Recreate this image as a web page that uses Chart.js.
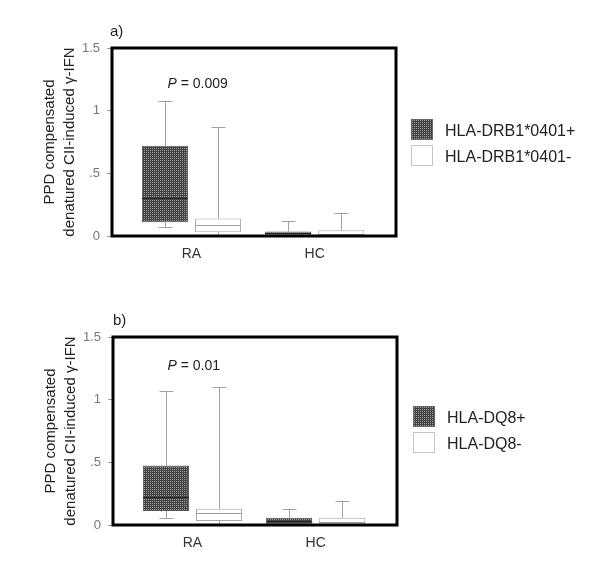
<!DOCTYPE html>
<html>
<head>
<meta charset="utf-8">
<script src="https://cdn.jsdelivr.net/npm/chart.js@4"></script>
<style>
  html, body { margin:0; padding:0; background:#ffffff; }
  body { width:600px; height:570px; position:relative; overflow:hidden; }
  canvas { position:absolute; left:0; }
</style>
</head>
<body>
<canvas id="chartA" width="600" height="285" style="top:0px"></canvas>
<canvas id="chartB" width="600" height="285" style="top:285px"></canvas>
<script>
// ---------- data ----------
const categories = ['RA', 'HC'];
const yTickValues = [0, 0.5, 1, 1.5];
const yTickLabels = ['0', '.5', '1', '1.5'];
const panelLabels = ['a)', 'b)'];
const pValues = ['0.009', '0.01'];
const seriesNamesA = ['HLA-DRB1*0401+', 'HLA-DRB1*0401-'];
const seriesNamesB = ['HLA-DQ8+', 'HLA-DQ8-'];

// panel a, carriers (+)
const aPosMin = [0.07, 0.0];
const aPosQ1  = [0.11, 0.0];
const aPosMed = [0.30, 0.02];
const aPosQ3  = [0.72, 0.035];
const aPosMax = [1.08, 0.12];
// panel a, non-carriers (-)
const aNegMin = [0.01, 0.0];
const aNegQ1  = [0.03, 0.005];
const aNegMed = [0.085, 0.012];
const aNegQ3  = [0.14, 0.045];
const aNegMax = [0.87, 0.185];

// panel b, carriers (+)
const bPosMin = [0.058, 0.0];
const bPosQ1  = [0.112, 0.003];
const bPosMed = [0.227, 0.03];
const bPosQ3  = [0.475, 0.058];
const bPosMax = [1.067, 0.13];
// panel b, non-carriers (-)
const bNegMin = [0.005, 0.0];
const bNegQ1  = [0.032, 0.005];
const bNegMed = [0.094, 0.02];
const bNegQ3  = [0.13, 0.058];
const bNegMax = [1.10, 0.195];

// ---------- styling ----------
Chart.defaults.font.family = "'Liberation Sans', Arial, sans-serif";

function makePattern() {
  const c = document.createElement('canvas');
  c.width = 2; c.height = 2;
  const g = c.getContext('2d');
  g.fillStyle = '#444444'; g.fillRect(0, 0, 2, 2);
  g.fillStyle = '#9a9a9a'; g.fillRect(0, 0, 1, 1);
  return g.createPattern(c, 'repeat');
}
const darkFill = makePattern();

const boxPlugin = {
  id: 'boxDecor',
  afterDatasetsDraw(chart) {
    const ctx = chart.ctx;
    const ys = chart.scales.y;
    ctx.save();
    chart.data.datasets.forEach((ds, di) => {
      const meta = chart.getDatasetMeta(di);
      const s = ds.stats;
      meta.data.forEach((bar, i) => {
        const cx = Math.round(bar.x) + 0.5;
        const w = bar.width;
        const pMin = Math.round(ys.getPixelForValue(s.min[i])) + 0.5;
        const pQ1 = ys.getPixelForValue(s.q1[i]);
        const pMed = Math.round(ys.getPixelForValue(s.med[i])) + 0.5;
        const pQ3 = ys.getPixelForValue(s.q3[i]);
        const pMax = Math.round(ys.getPixelForValue(s.max[i])) + 0.5;
        ctx.lineWidth = 1;
        ctx.strokeStyle = '#a2a2a2';
        ctx.beginPath();
        ctx.moveTo(cx, pQ3); ctx.lineTo(cx, pMax);
        ctx.moveTo(cx - 7, pMax); ctx.lineTo(cx + 7, pMax);
        if (s.min[i] < s.q1[i]) {
          ctx.moveTo(cx, pQ1); ctx.lineTo(cx, pMin);
          ctx.moveTo(cx - 7, pMin); ctx.lineTo(cx + 7, pMin);
        }
        ctx.stroke();
        ctx.strokeStyle = ds.medianColor;
        ctx.beginPath();
        ctx.moveTo(bar.x - w / 2, pMed); ctx.lineTo(bar.x + w / 2, pMed);
        ctx.stroke();
      });
    });
    ctx.restore();
  },
  afterDraw(chart, args, opts) {
    const ctx = chart.ctx;
    const a = chart.chartArea;
    ctx.save();
    // frame
    ctx.lineWidth = 3;
    ctx.strokeStyle = '#000';
    ctx.strokeRect(a.left, a.top, a.right - a.left, a.bottom - a.top);
    // panel label
    ctx.fillStyle = '#222';
    ctx.textBaseline = 'middle';
    ctx.textAlign = 'left';
    ctx.font = "15px 'Liberation Sans', Arial, sans-serif";
    ctx.fillText(opts.panelLabel, a.left + opts.labelDx, a.top - 16);
    // p-value
    const px = chart.scales.x.getPixelForValue(1) + opts.pDx;
    const py = chart.scales.y.getPixelForValue(opts.pY);
    ctx.font = "italic 14px 'Liberation Sans', Arial, sans-serif";
    const pw = ctx.measureText('P').width;
    ctx.fillText('P', px, py);
    ctx.font = "14px 'Liberation Sans', Arial, sans-serif";
    ctx.fillText(' = ' + opts.pValue, px + pw, py);
    // legend
    chart.data.datasets.forEach((ds, di) => {
      const lx = a.right + opts.legDx;
      const ly = opts.legTop + di * 26;
      ctx.fillStyle = ds.backgroundColor;
      ctx.fillRect(lx, ly, 22, 21);
      ctx.lineWidth = 1;
      ctx.strokeStyle = ds.legendBorder;
      ctx.strokeRect(lx + 0.5, ly + 0.5, 21, 20);
      ctx.fillStyle = '#222';
      ctx.font = "16px 'Liberation Sans', Arial, sans-serif";
      ctx.fillText(ds.label, lx + 34, ly + 13);
    });
    ctx.restore();
  }
};

function buildChart(id, names, pos, neg, pad, deco) {
  const mk = (st) => categories.map((c, i) => ({ x: i + 1, y: [st.q1[i], st.q3[i]] }));
  return new Chart(document.getElementById(id), {
    type: 'bar',
    data: {
      datasets: [
        {
          label: names[0], data: mk(pos), stats: pos,
          backgroundColor: darkFill, borderColor: '#555', borderWidth: 1,
          borderSkipped: false, medianColor: '#222', legendBorder: '#666'
        },
        {
          label: names[1], data: mk(neg), stats: neg,
          backgroundColor: '#ffffff', borderColor: '#a8a8a8', borderWidth: 1,
          borderSkipped: false, medianColor: '#a0a0a0', legendBorder: '#c4c4c4'
        }
      ]
    },
    options: {
      responsive: false,
      animation: false,
      devicePixelRatio: 1,
      categoryPercentage: 0.862,
      barPercentage: 0.868,
      layout: { padding: pad },
      plugins: {
        legend: { display: false },
        tooltip: { enabled: false },
        boxDecor: deco
      },
      scales: {
        x: {
          type: 'linear', min: 0.355, max: 2.66, offset: false, bounds: 'data',
          afterBuildTicks: (sc) => { sc.ticks = categories.map((c, i) => ({ value: i + 1 })); },
          afterFit: (sc) => { sc.height = 30; },
          grid: { display: false, drawTicks: false, offset: false },
          border: { display: false },
          ticks: {
            autoSkip: false, maxRotation: 0, padding: 10,
            color: '#333', font: { size: 14 },
            callback: (v) => categories[Math.round(v) - 1] || ''
          }
        },
        y: {
          min: 0, max: 1.5,
          afterBuildTicks: (sc) => { sc.ticks = yTickValues.map(v => ({ value: v })); },
          afterFit: (sc) => { sc.width = 72; },
          grid: { display: true, drawOnChartArea: false, drawTicks: true, tickLength: 5, color: '#999' },
          border: { display: false },
          ticks: {
            padding: 7, color: '#777', font: { size: 13 },
            callback: (v) => { const k = yTickValues.indexOf(v); return k >= 0 ? yTickLabels[k] : ''; }
          },
          title: {
            display: true,
            text: ['PPD compensated', 'denatured CII-induced \u03B3-IFN'],
            color: '#222', font: { size: 15, lineHeight: 1.333 }, padding: 0
          }
        }
      }
    },
    plugins: [boxPlugin]
  });
}

buildChart('chartA', seriesNamesA,
  { min: aPosMin, q1: aPosQ1, med: aPosMed, q3: aPosQ3, max: aPosMax },
  { min: aNegMin, q1: aNegQ1, med: aNegMed, q3: aNegQ3, max: aNegMax },
  { left: 40, top: 48, right: 204, bottom: 19 },
  { panelLabel: panelLabels[0], labelDx: -2, pValue: pValues[0], pDx: -24, pY: 1.21, legDx: 15, legTop: 119 });

buildChart('chartB', seriesNamesB,
  { min: bPosMin, q1: bPosQ1, med: bPosMed, q3: bPosQ3, max: bPosMax },
  { min: bNegMin, q1: bNegQ1, med: bNegMed, q3: bNegQ3, max: bNegMax },
  { left: 41, top: 52, right: 203, bottom: 15 },
  { panelLabel: panelLabels[1], labelDx: 0, pValue: pValues[1], pDx: -25, pY: 1.265, legDx: 16, legTop: 121 });
</script>
</body>
</html>
